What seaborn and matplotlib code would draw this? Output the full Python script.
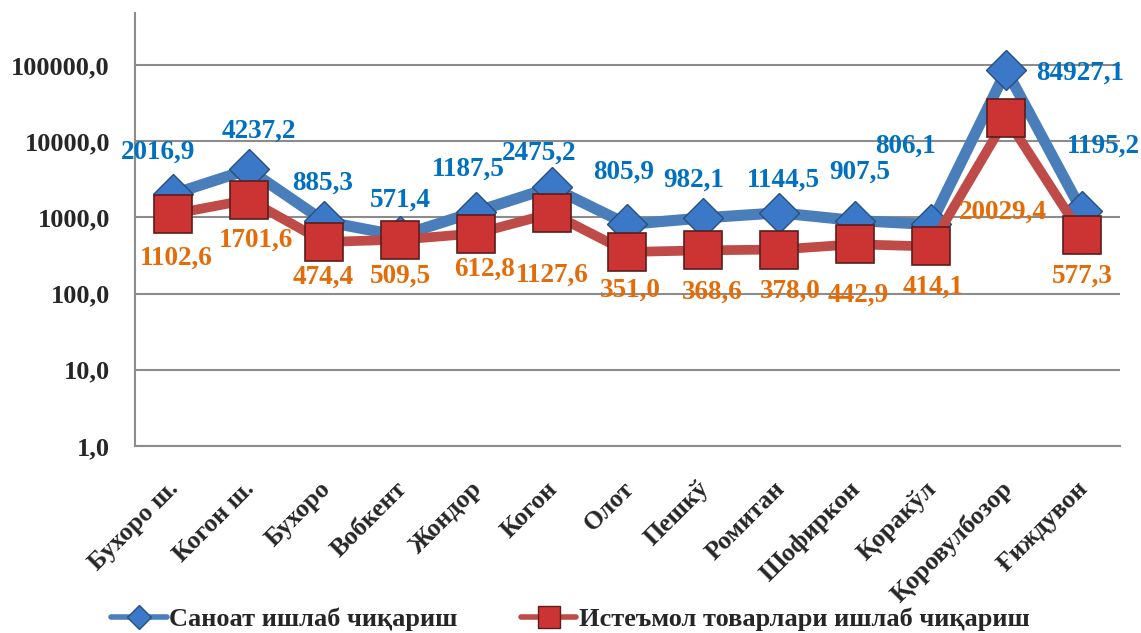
import numpy as np
import pandas as pd
import matplotlib
matplotlib.use("Agg")
import matplotlib.pyplot as plt
from matplotlib.lines import Line2D
from matplotlib.ticker import FixedLocator, FuncFormatter, NullFormatter
from matplotlib.transforms import ScaledTranslation
import seaborn as sns

# data
districts = ["Бухоро ш.", "Когон ш.", "Бухоро", "Вобкент", "Жондор", "Когон", "Олот",
             "Пешкў", "Ромитан", "Шофиркон", "Қоракўл", "Қоровулбозор", "Ғиждувон"]
industry = [2016.9, 4237.2, 885.3, 571.4, 1187.5, 2475.2, 805.9,
            982.1, 1144.5, 907.5, 806.1, 84927.1, 1195.2]
consumer = [1102.6, 1701.6, 474.4, 509.5, 612.8, 1127.6, 351.0,
            368.6, 378.0, 442.9, 414.1, 20029.4, 577.3]
series_names = ["Саноат ишлаб чиқариш", "Истеъмол товарлари ишлаб чиқариш"]

# label offsets in pixels (manual placement, like the original)
ind_offsets = [(-15, 42), (10, 38), (-2, 38), (0, 36), (-8, 42), (-13, 34), (-4, 52),
               (-10, 38), (4, 33), (5, 48), (-25, 78), (74, -3), (21, 65)]
con_offsets = [(3, -44), (7, -40), (-1, -35), (0, -37), (9, -36), (1, -62), (3, -38),
               (9, -42), (11, -42), (3, -51), (3, -41), (-3, -94), (0, -41)]

sns.set_style("white")
plt.rcParams["font.family"] = ["Liberation Serif", "DejaVu Serif"]
plt.rcParams["font.weight"] = "bold"

fig = plt.figure(figsize=(11.41, 6.33), dpi=100)
ax = fig.add_axes([0.1183, 0.2954, 0.8633, 0.6841])

x = np.arange(len(districts))
df = pd.DataFrame({"x": x, "industry": industry, "consumer": consumer})

blue_line, blue_face, blue_edge = "#4A7EBB", "#3C78C8", "#27507f"
red_line, red_face, red_edge = "#BE4B48", "#CC3333", "#5a1e1c"

sns.lineplot(data=df, x="x", y="industry", ax=ax, color=blue_line, lw=8,
             marker="D", markersize=20, markerfacecolor=blue_face,
             markeredgecolor=blue_edge, markeredgewidth=1, zorder=3)
sns.lineplot(data=df, x="x", y="consumer", ax=ax, color=red_line, lw=7,
             marker="s", markersize=27, markerfacecolor=red_face,
             markeredgecolor=red_edge, markeredgewidth=1.2, zorder=4)

for xi, v, off in zip(x, industry, ind_offsets):
    ax.annotate(f"{v:.1f}".replace(".", ","), (xi, v), xytext=off,
                textcoords="offset pixels", ha="center", va="center",
                fontsize=19.5, fontweight="bold", color="#0070C0", zorder=6)
for xi, v, off in zip(x, consumer, con_offsets):
    ax.annotate(f"{v:.1f}".replace(".", ","), (xi, v), xytext=off,
                textcoords="offset pixels", ha="center", va="center",
                fontsize=19.5, fontweight="bold", color="#E36C09", zorder=6)

ax.set_yscale("log")
ax.set_ylim(1, 10 ** 5.68)
ax.set_xlim(-0.5, len(districts) - 0.5)
ax.yaxis.set_major_locator(FixedLocator([1, 10, 100, 1000, 10000, 100000]))
ax.yaxis.set_minor_formatter(NullFormatter())
ax.yaxis.set_minor_locator(FixedLocator([]))
ax.yaxis.set_major_formatter(FuncFormatter(lambda v, p: f"{v:.1f}".replace(".", ",")))
ax.grid(axis="y", color="#8c8c8c", lw=1.5)
ax.set_axisbelow(True)

ax.xaxis.set_minor_locator(FixedLocator(np.arange(-0.5, len(districts), 1)))
ax.tick_params(axis="x", which="major", length=0, pad=31.5)
ax.tick_params(axis="x", which="minor", length=7, width=1.5, color="#8c8c8c", direction="out")
ax.tick_params(axis="y", which="major", length=8, width=1.5, color="#8c8c8c",
               direction="out", labelsize=19, pad=10)
for lab in ax.get_yticklabels():
    lab.set_fontweight("bold")

ax.set_xticks(x)
ax.set_xticklabels(districts, rotation=45, ha="right", va="baseline",
                   rotation_mode="anchor", fontsize=18.5, fontweight="bold")
# nudge the rotated category labels a little to the right, as in the original
shift = ScaledTranslation(7 / 100, 0, fig.dpi_scale_trans)
for lab in ax.get_xticklabels():
    lab.set_transform(lab.get_transform() + shift)

ax.set_xlabel("")
ax.set_ylabel("")
for side in ["top", "right"]:
    ax.spines[side].set_visible(False)
for side in ["left", "bottom"]:
    ax.spines[side].set_color("#8c8c8c")
    ax.spines[side].set_linewidth(1.5)

handles = [
    Line2D([], [], color=blue_line, lw=4, marker="D", markersize=12,
           markerfacecolor=blue_face, markeredgecolor=blue_edge),
    Line2D([], [], color=red_line, lw=4, marker="s", markersize=16,
           markerfacecolor=red_face, markeredgecolor=red_edge),
]
fig.legend(handles, series_names, loc="center", bbox_to_anchor=(0.5, 0.022),
           ncol=2, frameon=False, handlelength=2.1, handletextpad=0.1,
           columnspacing=2.4, borderpad=0, prop={"size": 19, "weight": "bold"})

fig.savefig("out.png", dpi=100)
